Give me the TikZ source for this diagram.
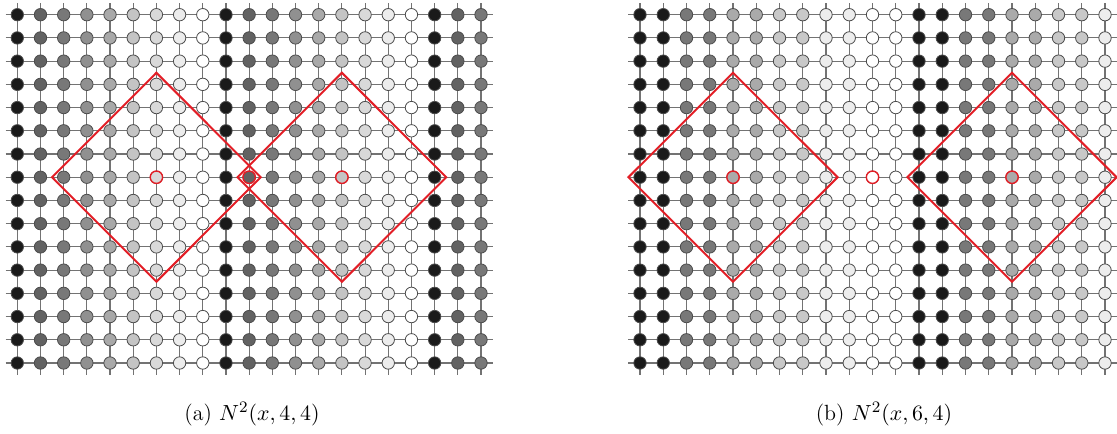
\documentclass[tikz,border=0pt]{standalone}
\usetikzlibrary{calc}
\definecolor{redline}{RGB}{226,30,38}
\definecolor{ca0}{HTML}{1A1A1A}
\definecolor{ca1}{HTML}{626262}
\definecolor{ca2}{HTML}{787878}
\definecolor{ca3}{HTML}{909090}
\definecolor{ca4}{HTML}{A9A9A9}
\definecolor{ca5}{HTML}{C4C4C4}
\definecolor{ca6}{HTML}{D9D9D9}
\definecolor{ca7}{HTML}{ECECEC}
\definecolor{ca8}{HTML}{FFFFFF}
\definecolor{cb0}{HTML}{1A1A1A}
\definecolor{cb1}{HTML}{787878}
\definecolor{cb2}{HTML}{AAAAAA}
\definecolor{cb3}{HTML}{C8C8C8}
\definecolor{cb4}{HTML}{EDEDED}
\definecolor{cb5}{HTML}{FFFFFF}
\tikzset{
  dot/.style={circle,draw=black!70,line width=0.4pt,minimum size=6.2pt,inner sep=0pt},
  hubdot/.style={circle,draw=redline,line width=0.7pt,minimum size=6.2pt,inner sep=0pt},
  gridline/.style={draw=black!55,line width=0.55pt},
  ball/.style={draw=redline,line width=1pt,line join=miter},
  captext/.style={font=\fontsize{11}{13}\selectfont,inner sep=0pt}
}
\begin{document}
\begin{tikzpicture}[x=0.5pt,y=-0.5pt]
\useasboundingbox (0,0) rectangle (1117,433);
% ---------- grid (a) ----------
\foreach \j in {0,...,15}{
  \draw[gridline] ({17.3-11.6},{14.7+\j*23.22}) -- ({481+11.6},{14.7+\j*23.22});
}
\foreach \i in {0,...,20}{
  \draw[gridline] ({17.3+\i*23.185},{14.7-11.6}) -- ({17.3+\i*23.185},{363+11.6});
}
\foreach \i in {0,...,20}{
  \foreach \j in {0,...,15}{
    \pgfmathtruncatemacro\k{mod(\i,9)}
    \node[dot,fill=ca\k] (a-\i-\j) at ({17.3+\i*23.185},{14.7+\j*23.22}) {};
  }
}
\node[hubdot,fill=ca6] (ha1) at (a-6-7) {};
\node[hubdot,fill=ca1] (ha2) at (a-10-7) {};
\node[hubdot,fill=ca5] (ha3) at (a-14-7) {};
\draw[ball] ($(a-6-7)+(-104.33,0)$) -- ($(a-6-7)+(0,-104.49)$) -- ($(a-6-7)+(104.33,0)$) -- ($(a-6-7)+(0,104.49)$) -- cycle;
\draw[ball] ($(a-14-7)+(-104.33,0)$) -- ($(a-14-7)+(0,-104.49)$) -- ($(a-14-7)+(104.33,0)$) -- ($(a-14-7)+(0,104.49)$) -- cycle;
% ---------- grid (b) ----------
\foreach \j in {0,...,15}{
  \draw[gridline] ({640-11.6},{14.7+\j*23.22}) -- ({1105+11.6},{14.7+\j*23.22});
}
\foreach \i in {0,...,20}{
  \draw[gridline] ({640+\i*23.25},{14.7-11.6}) -- ({640+\i*23.25},{363+11.6});
}
\foreach \i in {0,...,20}{
  \foreach \j in {0,...,15}{
    \pgfmathtruncatemacro\k{mod(div(\i,2),6)}
    \node[dot,fill=cb\k] (b-\i-\j) at ({640+\i*23.25},{14.7+\j*23.22}) {};
  }
}
\node[hubdot,fill=cb2] (hb1) at (b-4-7) {};
\node[hubdot,fill=cb5] (hb2) at (b-10-7) {};
\node[hubdot,fill=cb2] (hb3) at (b-16-7) {};
\draw[ball] ($(b-4-7)+(-104.6,0)$) -- ($(b-4-7)+(0,-104.49)$) -- ($(b-4-7)+(104.6,0)$) -- ($(b-4-7)+(0,104.49)$) -- cycle;
\draw[ball] ($(b-16-7)+(-104.6,0)$) -- ($(b-16-7)+(0,-104.49)$) -- ($(b-16-7)+(104.6,0)$) -- ($(b-16-7)+(0,104.49)$) -- cycle;
% ---------- captions ----------
\node[captext] (capa) at (252,414) {(a) $N^2(x,4,4)$};
\node[captext] (capb) at (884,414) {(b) $N^2(x,6,4)$};
\end{tikzpicture}
\end{document}
